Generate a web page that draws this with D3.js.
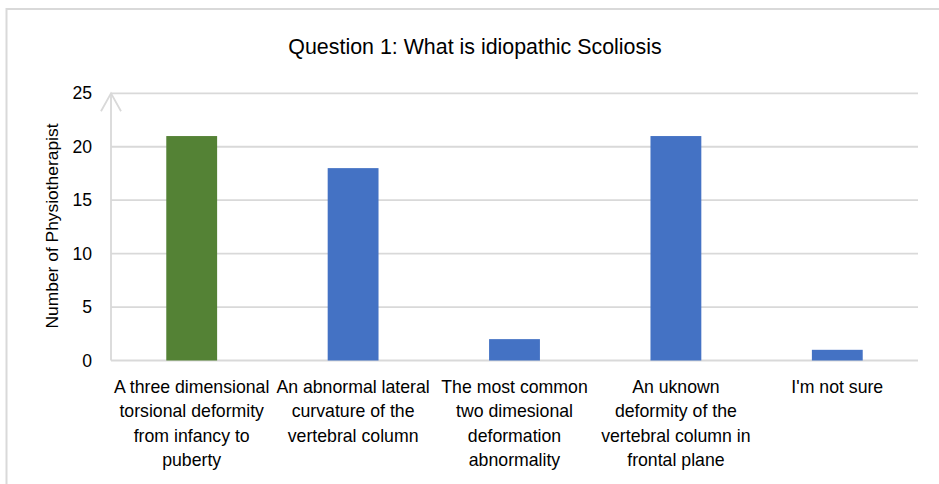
<!DOCTYPE html>
<html>
<head>
<meta charset="utf-8">
<script src="https://cdn.jsdelivr.net/npm/d3@7"></script>
<style>
  html, body { margin: 0; padding: 0; background: #fff; }
  svg { display: block; }
  text { font-family: "Liberation Sans", Arial, sans-serif; fill: #000; }
</style>
</head>
<body>
<svg id="chart" width="939" height="484"></svg>
<script>
// Survey answers to question 1
const categories = [
  ["A three dimensional", "torsional deformity", "from infancy to", "puberty"],
  ["An abnormal lateral", "curvature of the", "vertebral column"],
  ["The most common", "two dimesional", "deformation", "abnormality"],
  ["An uknown", "deformity of the", "vertebral column in", "frontal plane"],
  ["I'm not sure"]
];
const counts = [21, 18, 2, 21, 1];
const barColors = ["#548235", "#4472c4", "#4472c4", "#4472c4", "#4472c4"];
const yTicks = [0, 5, 10, 15, 20, 25];
const titleText = "Question 1: What is idiopathic Scoliosis";
const yTitle = "Number of Physiotherapist";

const svg = d3.select("#chart");
const W = 939, H = 484;
const plot = { left: 111, right: 918, top: 93.3, bottom: 360.5 };

// chart frame
svg.append("path")
  .attr("d", `M6.5,${H} V9 H${W}`)
  .attr("fill", "none")
  .attr("stroke", "#d9d9d9")
  .attr("stroke-width", 2);

svg.append("text")
  .attr("x", 475).attr("y", 53.5)
  .attr("text-anchor", "middle")
  .style("font-size", "21.4px")
  .text(titleText);

const x = d3.scaleBand()
  .domain(d3.range(counts.length))
  .range([plot.left, plot.right])
  .paddingInner(0.685)
  .paddingOuter(0.3425);

const y = d3.scaleLinear()
  .domain([0, 25])
  .range([plot.bottom, plot.top]);

// horizontal gridlines
svg.append("g")
  .selectAll("line")
  .data(yTicks)
  .join("line")
  .attr("x1", plot.left).attr("x2", plot.right)
  .attr("y1", d => y(d)).attr("y2", d => y(d))
  .attr("stroke", "#d9d9d9")
  .attr("stroke-width", 1.8);

// vertical axis with open arrowhead
const yAxisG = svg.append("g");
yAxisG.append("line")
  .attr("x1", plot.left).attr("x2", plot.left)
  .attr("y1", y(0)).attr("y2", y(25))
  .attr("stroke", "#d9d9d9").attr("stroke-width", 1.8);
yAxisG.append("path")
  .attr("d", `M${plot.left - 10},${y(25) + 18} L${plot.left},${y(25)} L${plot.left + 10},${y(25) + 18}`)
  .attr("fill", "none")
  .attr("stroke", "#d9d9d9").attr("stroke-width", 1.8);

// tick labels via d3 axis
const axisLeft = d3.axisLeft(y).tickValues(yTicks).tickSize(0).tickPadding(0);
const ag = svg.append("g")
  .attr("transform", `translate(92,0)`)
  .call(axisLeft);
ag.select(".domain").remove();
ag.selectAll("text")
  .style("font-size", "17.6px")
  .style("font-family", "'Liberation Sans', Arial, sans-serif")
  .attr("fill", "#000");

svg.append("text")
  .attr("transform", `translate(57.5,226) rotate(-90)`)
  .attr("text-anchor", "middle")
  .style("font-size", "17.4px")
  .text(yTitle);

// bars
svg.append("g")
  .selectAll("rect")
  .data(counts)
  .join("rect")
  .attr("x", (d, i) => x(i))
  .attr("width", x.bandwidth())
  .attr("y", d => y(d))
  .attr("height", d => y(0) - y(d))
  .attr("fill", (d, i) => barColors[i]);

// category labels
const lab = svg.append("g")
  .selectAll("text")
  .data(categories)
  .join("text")
  .attr("text-anchor", "middle")
  .style("font-size", "17.7px")
  .attr("x", (d, i) => x(i) + x.bandwidth() / 2)
  .attr("y", 393);
lab.selectAll("tspan")
  .data(d => d)
  .join("tspan")
  .attr("x", function () { return d3.select(this.parentNode).attr("x"); })
  .attr("dy", (d, i) => i === 0 ? 0 : 24.4)
  .text(d => d);
</script>
</body>
</html>
